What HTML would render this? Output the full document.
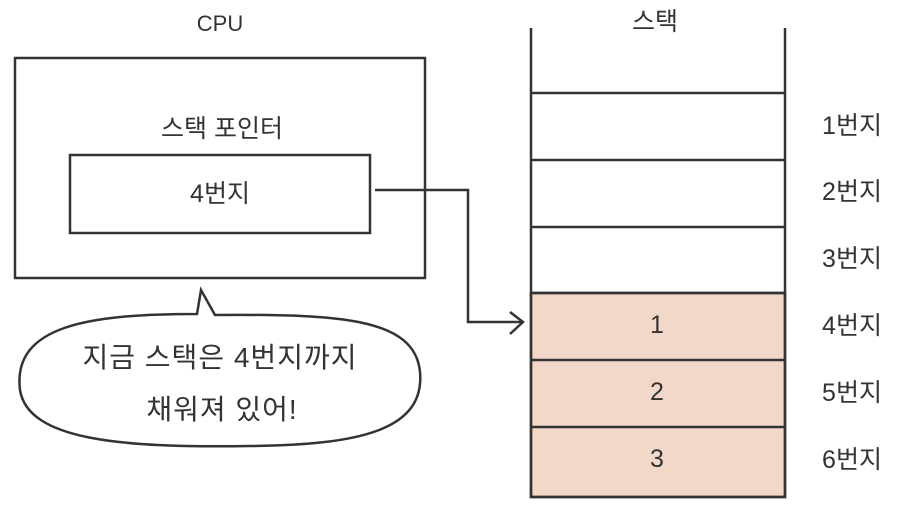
<!DOCTYPE html>
<html><head><meta charset="utf-8"><style>
body{margin:0;background:#fff;}
svg text{font-family:"Liberation Sans","Noto Sans CJK KR",sans-serif;fill:#333;}
</style></head><body>
<svg width="920" height="514" viewBox="0 0 920 514" xmlns="http://www.w3.org/2000/svg">
<rect width="920" height="514" fill="#fff"/>
<g stroke="#333" stroke-width="2.5" fill="none">
<rect x="15" y="58" width="410" height="220"/>
<rect x="70" y="155" width="300" height="78"/>
<rect x="531" y="293" width="254" height="204" fill="#f2d8c9"/>
<path d="M531 28 V497 H785 V28"/>
<path d="M531 93 H785 M531 160 H785 M531 227 H785 M531 293 H785 M531 360 H785 M531 427 H785"/>
<path d="M375 190 H468 V322 H522"/>
<path d="M510 312 L523 322 L510 334"/>
<path d="M197 314 L201 290 L215 315 C340 314 415 318 420 372 C425 430 360 445 250 446 C120 448 28 440 20 390 C12 325 90 314 197 314 Z" fill="#fff"/>
</g>
<g font-size="25" text-anchor="middle">
<text x="220" y="31" font-size="22">CPU</text>
<text x="222" y="137">스택 포인터</text>
<text x="220" y="202">4번지</text>
<text x="655" y="30">스택</text>
<text x="657" y="333">1</text>
<text x="657" y="400">2</text>
<text x="657" y="467">3</text>
<text x="220" y="367" font-size="28" letter-spacing="1">지금 스택은 4번지까지</text>
<text x="222" y="419" font-size="28" letter-spacing="1">채워져 있어!</text>
</g>
<g font-size="25" text-anchor="middle">
<text x="852" y="134">1번지</text>
<text x="852" y="200">2번지</text>
<text x="852" y="267">3번지</text>
<text x="852" y="334">4번지</text>
<text x="852" y="401">5번지</text>
<text x="852" y="468">6번지</text>
</g>
</svg>
</body></html>
